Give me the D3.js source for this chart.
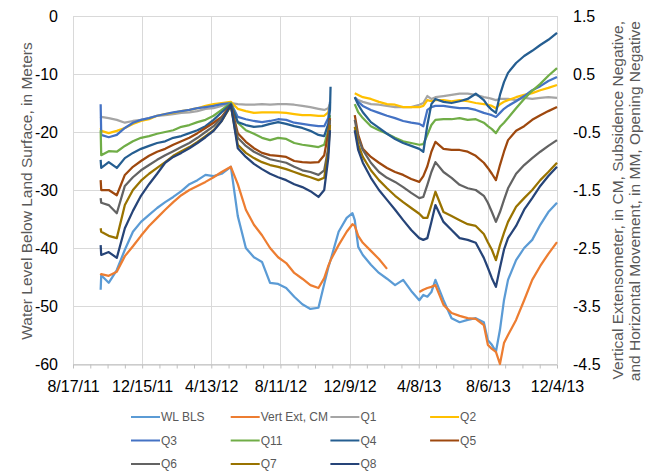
<!DOCTYPE html>
<html>
<head>
<meta charset="utf-8">
<title>Water Level and Extensometer 2011-2013</title>
<script src="https://cdn.jsdelivr.net/npm/d3@7"></script>
<style>
    body { margin: 0; background: #fff; }
    svg { font-family: 'Liberation Sans', Arial, sans-serif; }
    .grid line { stroke: #d9d9d9; stroke-width: 1; shape-rendering: crispEdges; }
    .axis text { font-size: 16px; fill: #000; }
    .axis-title { font-size: 15.5px; fill: #595959; }
    .legend text { font-size: 12px; fill: #595959; }
    .series { fill: none; stroke-width: 2.25; stroke-linejoin: round; }
</style>
</head>
<body>
<svg id="chart" width="648" height="471"></svg>
<script>
// dates shared by every series (m/d/yy)
var dates = ["10/4/11","10/5/11","10/18/11","11/1/11","11/15/11","11/29/11","12/13/11","12/27/11","1/10/12","1/24/12",
    "2/7/12","2/21/12","3/6/12","3/20/12","4/3/12","4/17/12","5/1/12","5/17/12","5/29/12","6/12/12",
    "6/26/12","7/10/12","7/24/12","8/7/12","8/21/12","9/4/12","9/18/12","10/2/12","10/16/12","10/26/12",
    "11/2/12","11/5/12","11/6/12","11/20/12","12/4/12","12/14/12","12/18/12","12/24/12","1/1/13","1/15/13",
    "1/29/13","2/12/13","2/26/13","3/12/13","3/26/13","4/9/13","4/16/13","4/23/13","4/30/13","5/7/13",
    "5/21/13","6/4/13","6/18/13","7/2/13","7/16/13","7/30/13","8/6/13","8/13/13","8/20/13","8/27/13",
    "9/3/13","9/10/13","9/24/13","10/8/13","10/22/13","11/5/13","11/19/13","12/4/13"];

// left axis (meters)
var wlBls = [-47.2, -44.7, -46.0, -43.8, -40.3, -37.2, -35.5, -34.3, -33.1, -32.1,
    -31.2, -30.2, -29.0, -28.3, -27.4, -27.6, -27.2, -26.0, -34.5, -40.0,
    -41.6, -42.4, -46.0, -46.2, -46.9, -48.4, -49.7, -50.5, -50.3, -46.2,
    -43.4, -42.4, -42.1, -37.2, -34.8, -34.0, -35.2, -39.8, -41.2, -42.9,
    -44.3, -45.3, -46.4, -45.5, -47.4, -49.0, -48.1, -48.4, -47.6, -45.5,
    -49.0, -52.1, -52.8, -52.4, -52.1, -52.8, -55.9, -56.7, -57.9, -54.1,
    -49.0, -45.5, -42.1, -40.0, -38.6, -36.0, -33.8, -32.2];

// right axis (cm / mm)
var vertExt = [-2.97, -2.95, -2.98, -2.91, -2.64, -2.47, -2.29, -2.12, -1.98, -1.84,
    -1.71, -1.59, -1.50, -1.43, -1.36, -1.28, -1.19, -1.10, -1.40, -1.84,
    -2.10, -2.28, -2.50, -2.66, -2.76, -2.93, -3.03, -3.14, -3.19, -3.02,
    -2.81, -2.74, -2.71, -2.45, -2.22, -2.09, -2.12, -2.29, -2.41, -2.55,
    -2.69, -2.86, null, null, null, -3.26, -3.22, -3.19, -3.17, -3.14,
    -3.48, -3.62, -3.67, -3.71, -3.72, -3.83, -4.17, -4.24, -4.29, -4.50,
    -4.14, -4.00, -3.74, -3.40, -3.05, -2.81, -2.60, -2.40];

var q1 = [-0.26, -0.24, -0.26, -0.29, -0.34, -0.31, -0.29, -0.26, -0.22, -0.21,
    -0.19, -0.17, -0.16, -0.14, -0.10, -0.09, -0.05, 0.00, -0.02, -0.03,
    -0.03, -0.02, -0.03, -0.02, -0.02, -0.03, -0.05, -0.07, -0.10, -0.12,
    -0.09, -0.02, null, null, null, null, 0.09, 0.05, 0.02, -0.02,
    -0.03, -0.05, -0.07, -0.07, -0.07, -0.03, 0.00, 0.12, 0.07, 0.10,
    0.12, 0.14, 0.16, 0.16, 0.14, 0.10, 0.09, 0.07, 0.05, 0.07,
    0.07, 0.07, 0.05, 0.09, 0.07, 0.09, 0.10, 0.09];

var q2 = [-0.43, -0.48, -0.52, -0.48, -0.43, -0.36, -0.31, -0.28, -0.22, -0.19,
    -0.17, -0.14, -0.12, -0.09, -0.05, -0.02, 0.00, 0.02, -0.10, -0.14,
    -0.17, -0.16, -0.16, -0.16, -0.17, -0.19, -0.21, -0.21, -0.22, -0.22,
    -0.16, -0.02, null, null, null, null, 0.17, 0.14, 0.10, 0.07,
    0.02, -0.02, -0.03, -0.07, -0.07, -0.07, -0.05, 0.05, 0.03, 0.05,
    0.05, 0.03, 0.05, 0.03, 0.00, -0.02, -0.03, -0.05, -0.09, -0.02,
    0.02, 0.05, 0.10, 0.14, 0.17, 0.22, 0.26, 0.31];

var q3 = [-0.02, -0.55, -0.59, -0.55, -0.43, -0.34, -0.29, -0.26, -0.22, -0.19,
    -0.16, -0.14, -0.12, -0.09, -0.07, -0.05, -0.02, 0.00, -0.24, -0.28,
    -0.31, -0.33, -0.31, -0.28, -0.29, -0.34, -0.36, -0.38, -0.40, -0.40,
    -0.26, 0.02, null, null, null, null, 0.10, 0.02, -0.05, -0.12,
    -0.17, -0.22, -0.26, -0.31, -0.34, -0.36, -0.40, -0.12, -0.07, -0.05,
    -0.05, -0.07, -0.09, -0.09, -0.12, -0.17, -0.19, -0.21, -0.24, -0.17,
    -0.10, -0.05, 0.03, 0.12, 0.22, 0.29, 0.38, 0.45];

var q11 = [-0.47, -0.90, -0.83, -0.84, -0.74, -0.66, -0.60, -0.57, -0.53, -0.50,
    -0.47, -0.41, -0.38, -0.33, -0.29, -0.22, -0.12, 0.00, -0.34, -0.47,
    -0.53, -0.60, -0.64, -0.60, -0.62, -0.69, -0.72, -0.74, -0.76, -0.72,
    -0.47, -0.21, null, null, null, null, -0.02, -0.16, -0.26, -0.40,
    -0.47, -0.53, -0.60, -0.66, -0.69, -0.72, -0.71, -0.55, -0.38, -0.29,
    -0.28, -0.28, -0.26, -0.29, -0.28, -0.34, -0.40, -0.45, -0.52, -0.41,
    -0.34, -0.26, -0.09, 0.07, 0.21, 0.33, 0.47, 0.60];

var q4 = [-0.98, -1.12, -1.02, -1.12, -0.95, -0.86, -0.79, -0.74, -0.69, -0.66,
    -0.60, -0.57, -0.52, -0.47, -0.40, -0.29, -0.16, -0.02, -0.33, -0.38,
    -0.41, -0.40, -0.36, -0.33, -0.36, -0.40, -0.43, -0.48, -0.55, -0.57,
    -0.36, -0.12, 0.28, null, null, null, 0.10, -0.03, -0.16, -0.33,
    -0.43, -0.53, -0.62, -0.69, -0.74, -0.79, -0.84, -0.38, -0.02, 0.07,
    0.02, 0.00, 0.03, 0.07, 0.16, 0.05, -0.05, -0.12, -0.17, 0.14,
    0.36, 0.52, 0.69, 0.81, 0.90, 1.00, 1.09, 1.21];

var q5 = [-1.33, -1.50, -1.50, -1.59, -1.24, -1.10, -1.00, -0.91, -0.84, -0.79,
    -0.72, -0.66, -0.60, -0.52, -0.43, -0.34, -0.24, -0.03, -0.52, -0.67,
    -0.78, -0.86, -0.90, -0.91, -0.93, -1.00, -1.02, -1.03, -1.02, -0.90,
    -0.52, -0.26, null, null, null, null, -0.21, -0.55, -0.79, -0.93,
    -1.03, -1.12, -1.19, -1.24, -1.31, -1.36, -1.26, -1.09, -0.84, -0.67,
    -0.79, -0.81, -0.81, -0.84, -0.91, -1.03, -1.12, -1.22, -1.33, -1.07,
    -0.84, -0.64, -0.48, -0.40, -0.29, -0.21, -0.14, -0.07];

var q6 = [-1.64, -1.72, -1.76, -1.90, -1.43, -1.28, -1.16, -1.07, -0.98, -0.90,
    -0.83, -0.76, -0.69, -0.60, -0.50, -0.40, -0.26, -0.05, -0.60, -0.74,
    -0.84, -0.91, -0.97, -1.00, -1.03, -1.10, -1.16, -1.19, -1.24, -1.16,
    -0.78, -0.29, null, null, null, null, -0.29, -0.60, -0.81, -1.03,
    -1.19, -1.29, -1.36, -1.45, -1.55, -1.64, -1.62, -1.41, -1.19, -1.02,
    -1.19, -1.29, -1.41, -1.47, -1.50, -1.60, -1.72, -1.88, -2.05, -1.88,
    -1.67, -1.47, -1.22, -1.07, -0.95, -0.84, -0.74, -0.64];

var q7 = [-2.16, -2.22, -2.29, -2.33, -1.76, -1.50, -1.34, -1.22, -1.12, -1.02,
    -0.91, -0.83, -0.76, -0.67, -0.57, -0.47, -0.31, -0.05, -0.72, -0.86,
    -0.95, -1.02, -1.07, -1.10, -1.14, -1.19, -1.24, -1.28, -1.33, -1.29,
    -0.84, -0.38, null, null, null, null, -0.41, -0.72, -0.93, -1.16,
    -1.33, -1.47, -1.60, -1.71, -1.81, -1.91, -1.98, -1.98, -1.76, -1.53,
    -1.88, -1.95, -2.02, -2.09, -2.12, -2.26, -2.40, -2.53, -2.71, -2.45,
    -2.24, -2.05, -1.79, -1.64, -1.50, -1.33, -1.19, -1.03];

var q8 = [-2.45, -2.62, -2.57, -2.67, -2.16, -1.86, -1.60, -1.40, -1.22, -1.03,
    -0.93, -0.86, -0.78, -0.69, -0.59, -0.48, -0.31, -0.03, -0.78, -0.93,
    -1.05, -1.14, -1.22, -1.28, -1.33, -1.40, -1.45, -1.52, -1.62, -1.50,
    -0.95, -0.47, null, null, null, null, -0.47, -0.81, -1.03, -1.29,
    -1.50, -1.67, -1.84, -2.02, -2.19, -2.33, -2.36, -2.33, -2.05, -1.76,
    -2.05, -2.19, -2.33, -2.36, -2.41, -2.67, -2.84, -3.02, -3.17, -2.84,
    -2.53, -2.33, -2.12, -1.84, -1.64, -1.43, -1.26, -1.10];

// tick labels
var xTickLabels = ["8/17/11", "12/15/11", "4/13/12", "8/11/12", "12/9/12", "4/8/13", "8/6/13", "12/4/13"];
var leftTicks = [0, -10, -20, -30, -40, -50, -60];
var rightTicks = [1.5, 0.5, -0.5, -1.5, -2.5, -3.5, -4.5];

var seriesNames = ["WL BLS", "Vert Ext, CM", "Q1", "Q2", "Q3", "Q11", "Q4", "Q5", "Q6", "Q7", "Q8"];
var seriesValues = [wlBls, vertExt, q1, q2, q3, q11, q4, q5, q6, q7, q8];
var seriesColors = ["#5B9BD5", "#ED7D31", "#A5A5A5", "#FFC000", "#4472C4", "#70AD47",
    "#255E91", "#9E480E", "#636363", "#997300", "#264478"];

var parseDate = d3.timeParse("%m/%d/%y");
var dateObjs = dates.map(parseDate);
var xTickDates = xTickLabels.map(parseDate);

var plot = { left: 73, right: 557, top: 16, bottom: 364 };

var svg = d3.select("#chart");

var x = d3.scaleTime()
    .domain([xTickDates[0], xTickDates[xTickDates.length - 1]])
    .range([plot.left, plot.right]);
var yLeft = d3.scaleLinear().domain([-60, 0]).range([plot.bottom, plot.top]);
var yRight = d3.scaleLinear().domain([-4.5, 1.5]).range([plot.bottom, plot.top]);

// gridlines
var grid = svg.append("g").attr("class", "grid");
grid.selectAll(".h").data(leftTicks).enter().append("line")
    .attr("x1", plot.left).attr("x2", plot.right)
    .attr("y1", d => Math.round(yLeft(d)) + 0.5).attr("y2", d => Math.round(yLeft(d)) + 0.5);
grid.selectAll(".v").data(xTickDates).enter().append("line")
    .attr("x1", d => Math.round(x(d)) + 0.5).attr("x2", d => Math.round(x(d)) + 0.5)
    .attr("y1", plot.top).attr("y2", plot.bottom);

// minor ticks every 30 days on the date axis
var minorTicks = d3.range(0, 841, 30).map(d => d3.timeDay.offset(xTickDates[0], d));
svg.append("g")
    .attr("transform", `translate(0,${plot.bottom + 0.5})`)
    .call(d3.axisBottom(x).tickValues(minorTicks).tickSize(4).tickSizeOuter(0).tickFormat(""))
    .call(g => g.selectAll("path, line").attr("stroke", "#bfbfbf"));

// date labels
svg.append("g")
    .attr("class", "axis")
    .attr("transform", `translate(0,${plot.bottom})`)
    .call(d3.axisBottom(x).tickValues(xTickDates).tickSize(0).tickPadding(17)
        .tickFormat((d, i) => xTickLabels[i]))
    .call(g => g.select(".domain").remove());

// plain hyphen for negatives, as in the original
svg.append("g")
    .attr("class", "axis")
    .attr("transform", `translate(${plot.left},0)`)
    .call(d3.axisLeft(yLeft).tickValues(leftTicks).tickSize(0).tickPadding(15)
        .tickFormat(d => String(d)))
    .call(g => g.select(".domain").remove());

svg.append("g")
    .attr("class", "axis")
    .attr("transform", `translate(${plot.right},0)`)
    .call(d3.axisRight(yRight).tickValues(rightTicks).tickSize(0).tickPadding(16)
        .tickFormat(d => d.toFixed(1)))
    .call(g => g.select(".domain").remove());

svg.selectAll(".axis text").attr("font-family", null).attr("font-size", null);

// lines (the noisier deep piezometers get a wider stroke)
seriesValues.forEach(function (vals, i) {
    var yScale = i === 0 ? yLeft : yRight;
    var pts = vals.map((v, j) => ({ date: dateObjs[j], value: v }));
    var line = d3.line()
        .defined(d => d.value !== null)
        .x(d => x(d.date))
        .y(d => yScale(d.value));
    svg.append("path")
        .datum(pts)
        .attr("class", "series")
        .attr("stroke", seriesColors[i])
        .attr("stroke-width", i >= 7 ? 2.75 : null)
        .attr("d", line);
});

// axis titles
svg.append("text")
    .attr("class", "axis-title")
    .attr("transform", "translate(32,191) rotate(-90)")
    .attr("text-anchor", "middle")
    .text("Water Level Below Land Surface, in Meters");

var rightTitle = ["Vertical Extensometer, in CM, Subsidence Negative,",
    "and Horizontal Movement, in MM, Opening Negative"];
rightTitle.forEach(function (t, i) {
    svg.append("text")
        .attr("class", "axis-title")
        .attr("transform", `translate(${623 + i * 17},21) rotate(-90)`)
        .attr("text-anchor", "end")
        .text(t);
});

// legend, 4 columns
var legend = svg.append("g").attr("class", "legend");
seriesNames.forEach(function (name, i) {
    var col = i % 4, row = Math.floor(i / 4);
    var lx = 131 + col * 99.7, ly = 417 + row * 23.5;
    legend.append("line")
        .attr("x1", lx).attr("x2", lx + 29)
        .attr("y1", ly).attr("y2", ly)
        .attr("stroke", seriesColors[i])
        .attr("stroke-width", 2);
    legend.append("text")
        .attr("x", lx + 30)
        .attr("y", ly)
        .attr("dy", "0.35em")
        .text(name);
});
</script>
</body>
</html>
